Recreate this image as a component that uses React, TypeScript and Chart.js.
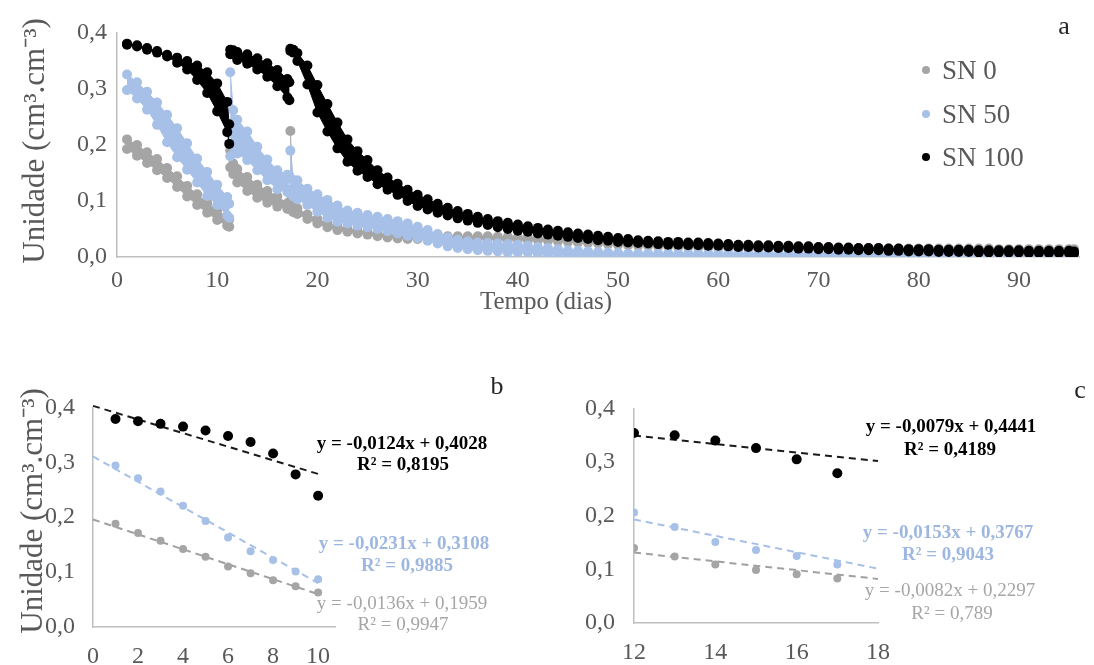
import React, { useEffect, useRef } from "react";
import { Chart, registerables } from "chart.js";

Chart.register(...registerables);

const FONT = "'Liberation Serif', 'Times New Roman', Times, serif";
const TICK_COLOR = "#595959";
const AXIS_COLOR = "#bfbfbf";
const GRAY = "#a5a5a5";
const BLUE = "#a7c0e8";
const BLACK = "#000000";

// ---------------- Panel a : time series (days) ----------------
const dayGrid = [
  1, 2, 3, 4, 5, 6, 7, 8, 9, 10, 11, 11.2,
  11.3, 11.6, 12, 13, 14, 15, 16, 17, 17.2,
  17.3, 17.6,
  18, 19, 20, 21, 22, 23, 24, 25, 26, 27,
  28, 29, 30, 31, 32, 33, 34, 35, 36, 37,
  38, 39, 40, 41, 42, 43, 44, 45, 46, 47,
  48, 49, 50, 51, 52, 53, 54, 55, 56, 57,
  58, 59, 60, 61, 62, 63, 64, 65, 66, 67,
  68, 69, 70, 71, 72, 73, 74, 75, 76, 77,
  78, 79, 80, 81, 82, 83, 84, 85, 86, 87,
  88, 89, 90, 91, 92, 93, 94, 95,
  95.5,
];
const segmentStarts = [0, 12, 21];

const sn0Hi = [
  0.210, 0.200, 0.187, 0.175, 0.159, 0.144, 0.127, 0.112, 0.097, 0.084, 0.071, 0.067,
  0.190, 0.167, 0.157, 0.143, 0.129, 0.118, 0.108, 0.096, 0.094,
  0.225, 0.090,
  0.087, 0.076, 0.068, 0.060, 0.055, 0.050, 0.047, 0.044, 0.042, 0.040,
  0.039, 0.038, 0.037, 0.037, 0.037, 0.037, 0.037, 0.037, 0.037, 0.037,
  0.036, 0.036, 0.035, 0.035, 0.034, 0.033, 0.032, 0.031, 0.030, 0.029,
  0.028, 0.027, 0.026, 0.025, 0.024, 0.023, 0.023, 0.022, 0.022, 0.021,
  0.021, 0.020, 0.020, 0.019, 0.019, 0.019, 0.018, 0.018, 0.018, 0.017,
  0.017, 0.017, 0.017, 0.016, 0.016, 0.016, 0.016, 0.016, 0.016, 0.015,
  0.015, 0.015, 0.015, 0.015, 0.015, 0.015, 0.015, 0.015, 0.015, 0.015,
  0.014, 0.014, 0.014, 0.014, 0.014, 0.014, 0.014, 0.014,
  0.014,
];
const sn0Lo = [
  0.193, 0.181, 0.168, 0.155, 0.141, 0.125, 0.108, 0.093, 0.079, 0.066, 0.056, 0.054,
  0.160, 0.148, 0.133, 0.118, 0.106, 0.097, 0.090, 0.086, 0.086,
  0.100, 0.080,
  0.077, 0.068, 0.060, 0.053, 0.048, 0.045, 0.042, 0.040, 0.037, 0.035,
  0.033, 0.032, 0.032, 0.032, 0.032, 0.032, 0.032, 0.032, 0.032, 0.032,
  0.031, 0.031, 0.031, 0.030, 0.030, 0.029, 0.028, 0.027, 0.026, 0.025,
  0.024, 0.023, 0.022, 0.021, 0.020, 0.020, 0.019, 0.019, 0.018, 0.018,
  0.017, 0.017, 0.016, 0.016, 0.015, 0.015, 0.015, 0.014, 0.014, 0.014,
  0.013, 0.013, 0.013, 0.013, 0.013, 0.013, 0.013, 0.013, 0.013, 0.013,
  0.012, 0.012, 0.012, 0.012, 0.012, 0.012, 0.012, 0.012, 0.012, 0.012,
  0.011, 0.011, 0.011, 0.011, 0.011, 0.011, 0.011, 0.011,
  0.011,
];

const sn50Hi = [
  0.326, 0.312, 0.295, 0.276, 0.254, 0.230, 0.203, 0.176, 0.152, 0.129, 0.107, 0.095,
  0.330, 0.262, 0.245, 0.224, 0.197, 0.174, 0.155, 0.147, 0.145,
  0.190, 0.137,
  0.137, 0.122, 0.112, 0.102, 0.092, 0.083, 0.079, 0.075, 0.072, 0.068,
  0.064, 0.060, 0.054, 0.048, 0.041, 0.035, 0.031, 0.028, 0.026, 0.025,
  0.024, 0.023, 0.022, 0.020, 0.018, 0.016, 0.014, 0.012, 0.011, 0.010,
  0.009, 0.008, 0.007, 0.006, 0.006, 0.006, 0.006, 0.006, 0.006, 0.006,
  0.006, 0.006, 0.006, 0.006, 0.006, 0.006, 0.006, 0.006, 0.006, 0.006,
  0.006, 0.006, 0.006, 0.006, 0.006, 0.006, 0.006, 0.006, 0.006, 0.006,
  0.006, 0.006, 0.006, 0.006, 0.006, 0.006, 0.006, 0.006, 0.006, 0.006,
  0.006, 0.006, 0.006, 0.006, 0.006, 0.006, 0.006, 0.006,
  0.006,
];
const sn50Lo = [
  0.298, 0.283, 0.263, 0.236, 0.205, 0.178, 0.156, 0.133, 0.109, 0.093, 0.074, 0.070,
  0.180, 0.198, 0.185, 0.173, 0.155, 0.137, 0.121, 0.116, 0.115,
  0.120, 0.108,
  0.103, 0.093, 0.081, 0.070, 0.063, 0.060, 0.056, 0.053, 0.050, 0.046,
  0.042, 0.038, 0.034, 0.029, 0.024, 0.019, 0.016, 0.014, 0.012, 0.011,
  0.010, 0.008, 0.008, 0.008, 0.006, 0.005, 0.004, 0.004, 0.004, 0.004,
  0.004, 0.004, 0.004, 0.004, 0.004, 0.004, 0.004, 0.004, 0.004, 0.004,
  0.004, 0.004, 0.004, 0.004, 0.004, 0.004, 0.004, 0.004, 0.004, 0.004,
  0.004, 0.004, 0.004, 0.004, 0.004, 0.004, 0.004, 0.004, 0.004, 0.004,
  0.004, 0.004, 0.004, 0.004, 0.004, 0.004, 0.004, 0.004, 0.004, 0.004,
  0.004, 0.004, 0.004, 0.004, 0.004, 0.004, 0.004, 0.004,
  0.004,
];

const sn100Hi = [
  0.381, 0.378, 0.373, 0.368, 0.361, 0.356, 0.350, 0.342, 0.330, 0.310, 0.277, 0.237,
  0.370, 0.369, 0.366, 0.362, 0.355, 0.346, 0.334, 0.318, 0.312,
  0.372, 0.370,
  0.364, 0.342, 0.307, 0.273, 0.240, 0.210, 0.189, 0.173, 0.155, 0.142,
  0.131, 0.120, 0.111, 0.103, 0.095, 0.088, 0.082, 0.077, 0.072, 0.068,
  0.064, 0.061, 0.058, 0.055, 0.052, 0.049, 0.047, 0.044, 0.042, 0.040,
  0.038, 0.036, 0.034, 0.032, 0.030, 0.029, 0.028, 0.027, 0.027, 0.026,
  0.026, 0.025, 0.024, 0.023, 0.022, 0.022, 0.021, 0.021, 0.020, 0.020,
  0.019, 0.019, 0.018, 0.018, 0.017, 0.017, 0.016, 0.016, 0.016, 0.015,
  0.015, 0.014, 0.014, 0.014, 0.013, 0.013, 0.013, 0.013, 0.012, 0.012,
  0.012, 0.012, 0.012, 0.011, 0.011, 0.011, 0.011, 0.011,
  0.010,
];
const sn100Lo = [
  0.379, 0.376, 0.370, 0.365, 0.358, 0.347, 0.335, 0.316, 0.293, 0.260, 0.223, 0.202,
  0.362, 0.362, 0.352, 0.345, 0.335, 0.322, 0.305, 0.285, 0.280,
  0.368, 0.365,
  0.350, 0.308, 0.258, 0.224, 0.194, 0.170, 0.154, 0.143, 0.130, 0.120,
  0.111, 0.100, 0.091, 0.085, 0.079, 0.074, 0.069, 0.065, 0.061, 0.057,
  0.053, 0.050, 0.047, 0.045, 0.042, 0.040, 0.038, 0.036, 0.034, 0.032,
  0.030, 0.029, 0.027, 0.026, 0.025, 0.024, 0.023, 0.022, 0.022, 0.021,
  0.021, 0.020, 0.020, 0.019, 0.018, 0.018, 0.017, 0.017, 0.016, 0.016,
  0.015, 0.015, 0.014, 0.014, 0.013, 0.013, 0.012, 0.012, 0.012, 0.011,
  0.011, 0.010, 0.010, 0.010, 0.009, 0.009, 0.009, 0.009, 0.008, 0.008,
  0.008, 0.008, 0.008, 0.007, 0.007, 0.007, 0.007, 0.007,
  0.006,
];

const legendLabels = ["SN 0", "SN 50", "SN 100"];

// ---------------- Panel b : days 1-10 ----------------
const bDays = [1, 2, 3, 4, 5, 6, 7, 8, 9, 10];
const bSn0 = [0.188, 0.171, 0.157, 0.142, 0.128, 0.110, 0.098, 0.085, 0.074, 0.063];
const bSn50 = [0.294, 0.271, 0.247, 0.221, 0.193, 0.163, 0.138, 0.122, 0.101, 0.087];
const bSn100 = [0.379, 0.375, 0.370, 0.365, 0.358, 0.348, 0.337, 0.316, 0.278, 0.239];
const bSlope = [-0.0136, -0.0231, -0.0124];
const bIntercept = [0.1959, 0.3108, 0.4028];
const bR2 = ["0,9947", "0,9885", "0,8195"];
const bTrendRange = [0, 10];

// ---------------- Panel c : days 12-17 ----------------
const cDays = [12, 13, 14, 15, 16, 17];
const cSn0 = [0.140, 0.124, 0.109, 0.099, 0.091, 0.083];
const cSn50 = [0.206, 0.179, 0.151, 0.136, 0.125, 0.109];
const cSn100 = [0.354, 0.350, 0.340, 0.326, 0.305, 0.279];
const cSlope = [-0.0082, -0.0153, -0.0079];
const cIntercept = [0.2297, 0.3767, 0.4441];
const cR2 = ["0,789", "0,9043", "0,4189"];
const cTrendRange = [12, 18];

const fmtNum = (v: number, d: number) => v.toFixed(d).replace(".", ",");
const eqText = (s: number, i: number) => `y = ${fmtNum(s, 4)}x + ${fmtNum(i, 4)}`;

// fills the area between a dataset and its paired (upper) dataset, using the
// pixel positions Chart.js computed for their points
const bandPlugin = {
  id: "bandFill",
  beforeDatasetDraw(chart: any, args: any) {
    const ds = chart.data.datasets[args.index];
    if (ds.bandWith === undefined) return;
    const lo = args.meta.data;
    const hi = chart.getDatasetMeta(ds.bandWith).data;
    if (!lo.length || !hi.length) return;
    const ctx = chart.ctx;
    ctx.save();
    ctx.beginPath();
    hi.forEach((p: any, i: number) => (i ? ctx.lineTo(p.x, p.y) : ctx.moveTo(p.x, p.y)));
    for (let i = lo.length - 1; i >= 0; i--) ctx.lineTo(lo[i].x, lo[i].y);
    ctx.closePath();
    ctx.fillStyle = ds.backgroundColor;
    ctx.fill();
    ctx.restore();
  },
};

function yAxis(width: number, pad: number) {
  return {
    type: "linear",
    position: "left",
    min: 0,
    max: 0.4,
    grid: { display: false, drawTicks: false },
    border: { display: true, color: AXIS_COLOR, width: 1.5 },
    ticks: {
      stepSize: 0.1,
      color: TICK_COLOR,
      padding: pad,
      font: { family: FONT, size: 24 },
      callback: (v: any) => fmtNum(Number(v), 1),
    },
    afterFit: (s: any) => {
      s.width = width;
    },
  };
}

function xAxis(min: number, max: number, step: number, height: number, pad: number) {
  return {
    type: "linear",
    position: "bottom",
    min,
    max,
    grid: { display: false, drawTicks: false },
    border: { display: true, color: AXIS_COLOR, width: 1.5 },
    ticks: {
      stepSize: step,
      includeBounds: false,
      autoSkip: false,
      maxRotation: 0,
      color: TICK_COLOR,
      padding: pad,
      font: { family: FONT, size: 24 },
      callback: (v: any) => String(v),
    },
    afterFit: (s: any) => {
      s.height = height;
    },
  };
}

function configA() {
  const series = [
    { hi: sn0Hi, lo: sn0Lo, color: GRAY, order: 3 },
    { hi: sn50Hi, lo: sn50Lo, color: BLUE, order: 2 },
    { hi: sn100Hi, lo: sn100Lo, color: BLACK, order: 1 },
  ];
  const datasets: any[] = [];
  series.forEach((s) => {
    segmentStarts.forEach((start, k) => {
      const end = k + 1 < segmentStarts.length ? segmentStarts[k + 1] : dayGrid.length;
      const pts = (arr: number[]) =>
        dayGrid.slice(start, end).map((d, i) => ({ x: d, y: arr[start + i] }));
      const base = {
        borderColor: s.color,
        backgroundColor: s.color,
        borderWidth: 1,
        pointRadius: 5,
        pointBackgroundColor: s.color,
        pointBorderWidth: 0,
        tension: 0,
        fill: false,
        order: s.order,
      };
      const hiIndex = datasets.length;
      datasets.push({ ...base, data: pts(s.hi) });
      datasets.push({ ...base, data: pts(s.lo), bandWith: hiIndex });
    });
  });
  return {
    type: "line",
    data: { datasets },
    plugins: [bandPlugin],
    options: {
      responsive: false,
      animation: false,
      events: [],
      layout: { padding: { left: 0, right: 15, top: 33, bottom: 0 } },
      scales: {
        x: xAxis(0, 96, 10, 63, 9),
        y: yAxis(117, 10),
      },
      plugins: { legend: { display: false }, tooltip: { enabled: false } },
    },
  };
}

function configFit(
  days: number[],
  values: number[][],
  slopes: number[],
  intercepts: number[],
  range: number[],
  xMin: number,
  xMax: number,
  yWidth: number,
  yPad: number,
  xHeight: number,
  rightPad: number
) {
  const colors = [GRAY, BLUE, BLACK];
  const trendColors = ["#a0a0a0", "#a7c0e8", "#1a1a1a"];
  const radii = [4, 4, 5];
  const datasets: any[] = [];
  values.forEach((vals, k) => {
    datasets.push({
      data: days.map((d, i) => ({ x: d, y: vals[i] })),
      showLine: false,
      pointRadius: radii[k],
      pointBackgroundColor: colors[k],
      pointBorderWidth: 0,
      borderColor: colors[k],
      order: 3 - k,
    });
    datasets.push({
      data: range.map((x) => ({ x, y: intercepts[k] + slopes[k] * x })),
      borderColor: trendColors[k],
      borderWidth: 2,
      borderDash: [7, 5],
      pointRadius: 0,
      fill: false,
      clip: false,
      order: 3 - k,
    });
  });
  return {
    type: "line",
    data: { datasets },
    options: {
      responsive: false,
      animation: false,
      events: [],
      layout: { padding: { left: 0, right: rightPad, top: 15, bottom: 0 } },
      scales: {
        x: xAxis(xMin, xMax, 2, xHeight, 15),
        y: yAxis(yWidth, yPad),
      },
      plugins: { legend: { display: false }, tooltip: { enabled: false } },
    },
  };
}

function ChartCanvas(props: { left: number; top: number; width: number; height: number; make: () => any }) {
  const ref = useRef<HTMLCanvasElement>(null);
  useEffect(() => {
    const chart = new Chart(ref.current as HTMLCanvasElement, props.make());
    return () => chart.destroy();
  }, []);
  return (
    <canvas
      ref={ref}
      width={props.width}
      height={props.height}
      style={{ position: "absolute", left: props.left, top: props.top, width: props.width, height: props.height }}
    />
  );
}

function Txt(props: {
  x: number;
  y: number;
  size: number;
  color: string;
  bold?: boolean;
  left?: boolean;
  rotate?: boolean;
  children: any;
}) {
  let transform = props.left ? "translate(0,-50%)" : "translate(-50%,-50%)";
  if (props.rotate) transform += " rotate(-90deg)";
  return (
    <div
      style={{
        position: "absolute",
        left: props.x,
        top: props.y,
        transform,
        fontFamily: FONT,
        fontSize: props.size,
        color: props.color,
        fontWeight: props.bold ? 700 : 400,
        whiteSpace: "nowrap",
        lineHeight: 1,
      }}
    >
      {props.children}
    </div>
  );
}

export default function App() {
  const legendColors = [GRAY, BLUE, BLACK];
  const legendY = [70, 114, 157];
  const eqColors = ["#a6a6a6", "#9db7e0", "#000000"];
  const eqBold = [false, true, true];
  const bEqPos = [
    [402, 602, 403, 623],
    [404, 542, 407, 564],
    [402, 442, 403, 463],
  ];
  const cEqPos = [
    [950, 589, 952, 612],
    [948, 531, 948, 553],
    [951, 425, 950, 448],
  ];
  const yTitle = "Unidade (cm³.cm⁻³)";
  return (
    <div style={{ position: "absolute", left: 0, top: 0, width: 1094, height: 665, overflow: "hidden", background: "#ffffff" }}>
      <ChartCanvas left={0} top={0} width={1094} height={320} make={configA} />
      <ChartCanvas
        left={0}
        top={375}
        width={560}
        height={290}
        make={() => configFit(bDays, [bSn0, bSn50, bSn100], bSlope, bIntercept, bTrendRange, 0, 10.75, 93, 18, 38, 225)}
      />
      <ChartCanvas
        left={560}
        top={375}
        width={534}
        height={290}
        make={() => configFit(cDays, [cSn0, cSn50, cSn100], cSlope, cIntercept, cTrendRange, 12, 18, 74, 19, 42, 216)}
      />

      <Txt x={33} y={141} size={31} color={TICK_COLOR} rotate>{yTitle}</Txt>
      <Txt x={546} y={300} size={25} color={TICK_COLOR}>Tempo (dias)</Txt>
      <Txt x={1064} y={26} size={26} color="#262626">a</Txt>
      {legendLabels.map((lab, i) => (
        <React.Fragment key={lab}>
          <div
            style={{
              position: "absolute",
              left: 922,
              top: legendY[i] - 4,
              width: 8,
              height: 8,
              borderRadius: 4,
              background: legendColors[i],
            }}
          />
          <Txt x={942} y={legendY[i]} size={27} color={TICK_COLOR} left>
            {lab}
          </Txt>
        </React.Fragment>
      ))}

      <Txt x={31} y={511} size={31} color={TICK_COLOR} rotate>{yTitle}</Txt>
      <Txt x={497} y={386} size={26} color="#262626">b</Txt>
      {bSlope.map((s, k) => (
        <React.Fragment key={"b" + k}>
          <Txt x={bEqPos[k][0]} y={bEqPos[k][1]} size={19} color={eqColors[k]} bold={eqBold[k]}>
            {eqText(s, bIntercept[k])}
          </Txt>
          <Txt x={bEqPos[k][2]} y={bEqPos[k][3]} size={19} color={eqColors[k]} bold={eqBold[k]}>
            {"R² = " + bR2[k]}
          </Txt>
        </React.Fragment>
      ))}

      <Txt x={1080} y={390} size={26} color="#262626">c</Txt>
      {cSlope.map((s, k) => (
        <React.Fragment key={"c" + k}>
          <Txt x={cEqPos[k][0]} y={cEqPos[k][1]} size={19} color={eqColors[k]} bold={eqBold[k]}>
            {eqText(s, cIntercept[k])}
          </Txt>
          <Txt x={cEqPos[k][2]} y={cEqPos[k][3]} size={19} color={eqColors[k]} bold={eqBold[k]}>
            {"R² = " + cR2[k]}
          </Txt>
        </React.Fragment>
      ))}
    </div>
  );
}
